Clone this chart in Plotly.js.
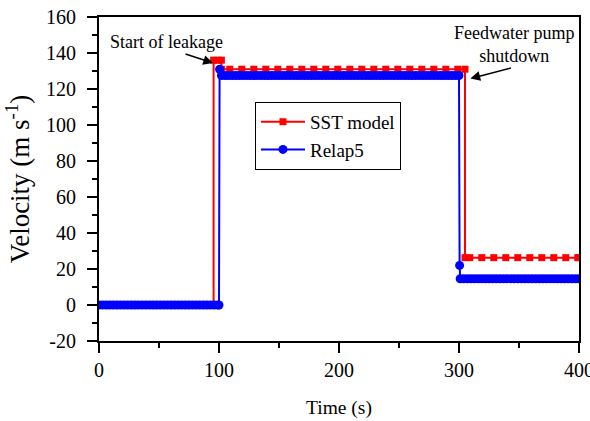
<!DOCTYPE html>
<html>
<head>
<meta charset="utf-8">
<script src="https://cdn.plot.ly/plotly-3.0.1.min.js"></script>
<style>
  html, body { margin: 0; padding: 0; background: #fff; }
  #chart { width: 590px; height: 421px; }
</style>
</head>
<body>
<div id="chart"></div>
<script>
// Outlet velocity during the leakage transient: SST model vs Relap5
const sstTime = [0, 9, 19, 29, 39, 49, 59, 69, 79, 89, 95.5,
  95.5, 99, 102,
  102, 109, 119, 129, 139, 149, 159, 169, 179, 189, 199, 209, 219, 229, 239, 249, 259, 269, 279, 289, 299, 305,
  305, 309, 319, 329, 339, 349, 359, 369, 379, 389, 399, 400];
const sstVel = [0, 0, 0, 0, 0, 0, 0, 0, 0, 0, 0,
  136, 136, 136,
  131, 131, 131, 131, 131, 131, 131, 131, 131, 131, 131, 131, 131, 131, 131, 131, 131, 131, 131, 131, 131, 131,
  26.3, 26.3, 26.3, 26.3, 26.3, 26.3, 26.3, 26.3, 26.3, 26.3, 26.3, 26.3];

const relapTime = [0, 3, 6, 9, 12, 15, 18, 21, 24, 27, 30, 33, 36, 39, 42, 45, 48, 51, 54, 57, 60, 63, 66, 69, 72, 75, 78, 81, 84, 87, 90, 93, 96, 99, 100,
  100.5,
  102, 105, 108, 111, 114, 117, 120, 123, 126, 129, 132, 135, 138, 141, 144, 147, 150, 153, 156, 159, 162, 165, 168, 171, 174, 177, 180, 183, 186, 189, 192, 195, 198,
  201, 204, 207, 210, 213, 216, 219, 222, 225, 228, 231, 234, 237, 240, 243, 246, 249, 252, 255, 258, 261, 264, 267, 270, 273, 276, 279, 282, 285, 288, 291, 294, 297, 300,
  300.5,
  301, 304, 307, 310, 313, 316, 319, 322, 325, 328, 331, 334, 337, 340, 343, 346, 349, 352, 355, 358, 361, 364, 367, 370, 373, 376, 379, 382, 385, 388, 391, 394, 397, 400];
const relapVel = [0, 0, 0, 0, 0, 0, 0, 0, 0, 0, 0, 0, 0, 0, 0, 0, 0, 0, 0, 0, 0, 0, 0, 0, 0, 0, 0, 0, 0, 0, 0, 0, 0, 0, 0,
  131,
  127.5, 127.5, 127.5, 127.5, 127.5, 127.5, 127.5, 127.5, 127.5, 127.5, 127.5, 127.5, 127.5, 127.5, 127.5, 127.5, 127.5, 127.5, 127.5, 127.5, 127.5, 127.5, 127.5, 127.5, 127.5, 127.5, 127.5, 127.5, 127.5, 127.5, 127.5, 127.5, 127.5,
  127.5, 127.5, 127.5, 127.5, 127.5, 127.5, 127.5, 127.5, 127.5, 127.5, 127.5, 127.5, 127.5, 127.5, 127.5, 127.5, 127.5, 127.5, 127.5, 127.5, 127.5, 127.5, 127.5, 127.5, 127.5, 127.5, 127.5, 127.5, 127.5, 127.5, 127.5, 127.5, 127.5, 127.5,
  22,
  14.6, 14.6, 14.6, 14.6, 14.6, 14.6, 14.6, 14.6, 14.6, 14.6, 14.6, 14.6, 14.6, 14.6, 14.6, 14.6, 14.6, 14.6, 14.6, 14.6, 14.6, 14.6, 14.6, 14.6, 14.6, 14.6, 14.6, 14.6, 14.6, 14.6, 14.6, 14.6, 14.6, 14.6];

const xTicks = [0, 100, 200, 300, 400];
const xTickText = ['0', '100', '200', '300', '400'];
const yTicks = [-20, 0, 20, 40, 60, 80, 100, 120, 140, 160];
const yTickText = ['-20', '0', '20', '40', '60', '80', '100', '120', '140', '160'];

const serif = 'Liberation Serif, Times New Roman, serif';
const yRange = [-20, 160];

const traces = [
  {
    x: sstTime, y: sstVel, name: 'SST model', type: 'scatter', mode: 'lines+markers',
    line: { color: '#ff0000', width: 2 },
    marker: { symbol: 'square', size: 7, color: '#ff0000', line: { width: 0 } }
  },
  {
    // same velocity scale as y (identical fixed range), drawn on the labelled overlay axis
    x: relapTime, y: relapVel, yaxis: 'y2', name: 'Relap5', type: 'scatter', mode: 'lines+markers',
    line: { color: '#0000ff', width: 2 },
    marker: { symbol: 'circle', size: 9, color: '#0000ff', line: { width: 0 } }
  }
];

const axisCommon = {
  showline: true, linewidth: 2, linecolor: '#000', mirror: true,
  showgrid: false, zeroline: false,
  ticks: 'outside', ticklen: 10, tickwidth: 2, tickcolor: '#000',
  tickfont: { family: serif, size: 20, color: '#000' },
  ticklabeloverflow: 'allow', automargin: false
};

const layout = {
  width: 590, height: 421,
  margin: { l: 99, r: 11, t: 17, b: 80 },
  paper_bgcolor: '#fff', plot_bgcolor: '#fff',
  font: { family: serif, size: 20, color: '#000' },
  showlegend: true,
  legend: {
    x: 0.325, y: 0.738, xanchor: 'left', yanchor: 'top',
    bgcolor: '#fff', bordercolor: '#000', borderwidth: 1,
    itemwidth: 44,
    font: { family: serif, size: 19, color: '#000' }
  },
  xaxis: Object.assign({}, axisCommon, {
    range: [0, 400], tickmode: 'array', tickvals: xTicks, ticktext: xTickText,
    minor: { dtick: 50, tick0: 0, ticks: 'outside', ticklen: 5, tickwidth: 2, tickcolor: '#000', showgrid: false },
    title: { text: 'Time (s)', font: { family: serif, size: 19.5, color: '#000' }, standoff: 20 }
  }),
  // frame, major and minor ticks of the velocity axis
  yaxis: Object.assign({}, axisCommon, {
    range: yRange, tickmode: 'array', tickvals: yTicks, showticklabels: false,
    minor: { dtick: 10, tick0: 0, ticks: 'outside', ticklen: 5, tickwidth: 2, tickcolor: '#000', showgrid: false }
  }),
  // labels and title of the velocity axis, set a little further out from the ticks
  yaxis2: {
    overlaying: 'y', anchor: 'x', side: 'left', range: yRange,
    showline: false, showgrid: false, zeroline: false,
    ticks: 'outside', ticklen: 18, tickwidth: 1, tickcolor: 'rgba(0,0,0,0)',
    tickmode: 'array', tickvals: yTicks, ticktext: yTickText,
    tickfont: { family: serif, size: 20, color: '#000' }, automargin: false,
    title: { text: 'Velocity (m s<sup>-1</sup>)', font: { family: serif, size: 27, color: '#000' }, standoff: 8 }
  },
  annotations: [
    { x: 56.4, y: 146.1, xref: 'x', yref: 'y', text: 'Start of leakage', showarrow: false,
      font: { family: serif, size: 18, color: '#000' } },
    { x: 95, y: 134.4, xref: 'x', yref: 'y', text: '', showarrow: true, ax: -29, ay: -9.5,
      arrowhead: 2, arrowsize: 1.3, arrowwidth: 1.5, arrowcolor: '#000', standoff: 0, startstandoff: 0 },
    { x: 345.6, y: 144.6, xref: 'x', yref: 'y', text: 'Feedwater pump<br>shutdown', showarrow: false,
      font: { family: serif, size: 18, color: '#000' } },
    { x: 309.5, y: 125.8, xref: 'x', yref: 'y', text: '', showarrow: true, ax: 42, ay: -11,
      arrowhead: 2, arrowsize: 1.3, arrowwidth: 1.5, arrowcolor: '#000', standoff: 0, startstandoff: 0 }
  ]
};

Plotly.newPlot('chart', traces, layout, { staticPlot: true, displayModeBar: false });
</script>
</body>
</html>
